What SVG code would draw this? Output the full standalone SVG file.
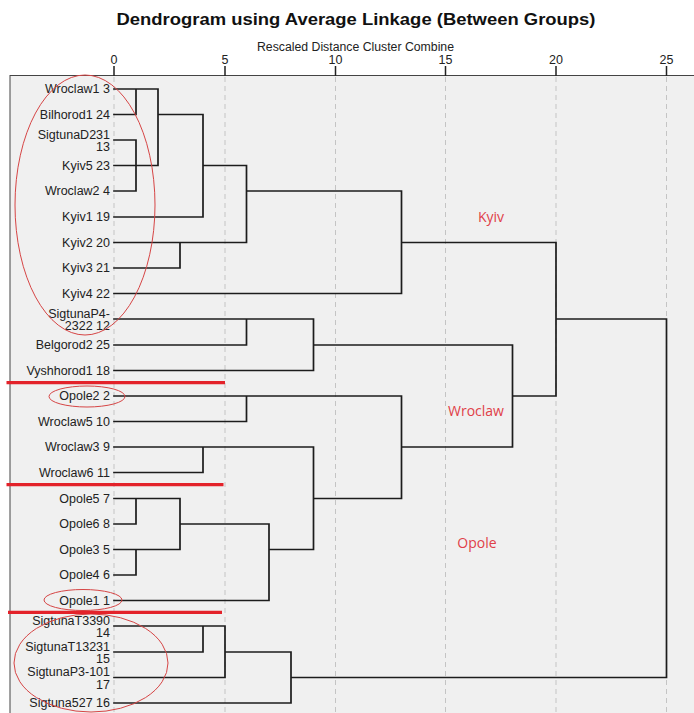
<svg xmlns="http://www.w3.org/2000/svg" width="694" height="713" viewBox="0 0 694 713">
<style>
.title{font-family:"Liberation Sans",Arial,sans-serif;font-weight:bold;font-size:17px;fill:#111}
.sub{font-family:"Liberation Sans",Arial,sans-serif;font-size:12px;fill:#222}
.tick{font-family:"Liberation Sans",Arial,sans-serif;font-size:12.5px;fill:#222;text-anchor:middle}
.leaf{font-family:"Liberation Sans",Arial,sans-serif;font-size:12.5px;fill:#222;text-anchor:end}
.grid{stroke:#c4c4c4;stroke-width:1;stroke-dasharray:5 4;fill:none}
.tk{stroke:#222;stroke-width:1.5}
.tree{stroke:#1c1c1c;stroke-width:1.7;fill:none;stroke-linecap:square}
.sep{stroke:#e3222a;stroke-width:3.2}
.ell{fill:none;stroke:#d64545;stroke-width:1}
.clab{font-family:"Open Sans","Liberation Sans",sans-serif;font-size:14px;fill:#e04048;text-anchor:middle}
</style>
<rect x="0" y="0" width="694" height="713" fill="#ffffff"/>
<text class="title" x="116.5" y="25" textLength="479" lengthAdjust="spacingAndGlyphs">Dendrogram using Average Linkage (Between Groups)</text>
<text class="sub" x="257" y="51" textLength="197" lengthAdjust="spacingAndGlyphs">Rescaled Distance Cluster Combine</text>
<rect x="10" y="75.5" width="700" height="660" fill="#f0f0f0" stroke="#444" stroke-width="1"/>
<g id="axis">
<path class="grid" d="M114 77V713M225 77V713M335.5 77V713M445.5 77V713M556 77V713M666.5 77V713"/>
<path class="tk" d="M114 66V76M225 66V76M335.5 66V76M445.5 66V76M556 66V76M666.5 66V76"/>
<text class="tick" x="114" y="64">0</text>
<text class="tick" x="225" y="64">5</text>
<text class="tick" x="335.5" y="64">10</text>
<text class="tick" x="445.5" y="64">15</text>
<text class="tick" x="556" y="64">20</text>
<text class="tick" x="666.5" y="64">25</text>
</g>
<g id="connectors">
<path class="tree" d="
M114 89H158 M136 89V114.5 M114 114.5H136 M158 114.5H203
M114 140H136 M136 140V191 M114 165.5H158 M114 191H136 M158 89V165.5
M203 114.5V217 M114 217H203 M203 165.5H246.5 M246.5 165.5V242.5
M114 242.5H246.5 M180 242.5V268 M114 268H180
M114 293.5H401.5 M246.5 191H401.5 M401.5 191V293.5
M401.5 242.5H556 M556 242.5V396 M556 319H666.5 M666.5 319V677.5
M114 319H313.5 M246.5 319V345 M114 345H246.5 M313.5 345H512.5
M313.5 319V370.5 M114 370.5H313.5 M512.5 345V447 M512.5 396H556
M114 396H401.5 M246.5 396V421.5 M114 421.5H246.5 M401.5 396V498.5
M401.5 447H512.5 M114 447H313.5 M203 447V472.5 M114 472.5H203
M313.5 447V549.5 M313.5 498.5H401.5
M114 498.5H180 M136 498.5V524 M114 524H136 M180 498.5V549.5 M180 524H269
M114 549.5H180 M136 549.5V575 M114 575H136 M269 524V600.5 M114 600.5H269
M269 549.5H313.5
M114 626H225 M203 626V652 M114 652H203 M225 626V677.5 M114 677.5H225
M225 652H291 M291 652V703 M114 703H291 M291 677.5H666.5"/>
</g>
<g id="leaf-wroclaw1-3"><text class="leaf" x="110" y="93.3">Wroclaw1 3</text></g>
<g id="leaf-bilhorod1-24"><text class="leaf" x="110" y="118.8">Bilhorod1 24</text></g>
<g id="leaf-sigtunad231-13"><text class="leaf" x="110" y="138.5">SigtunaD231</text><text class="leaf" x="110" y="151">13</text></g>
<g id="leaf-kyiv5-23"><text class="leaf" x="110" y="169.8">Kyiv5 23</text></g>
<g id="leaf-wroclaw2-4"><text class="leaf" x="110" y="195.3">Wroclaw2 4</text></g>
<g id="leaf-kyiv1-19"><text class="leaf" x="110" y="221.3">Kyiv1 19</text></g>
<g id="leaf-kyiv2-20"><text class="leaf" x="110" y="246.8">Kyiv2 20</text></g>
<g id="leaf-kyiv3-21"><text class="leaf" x="110" y="272.3">Kyiv3 21</text></g>
<g id="leaf-kyiv4-22"><text class="leaf" x="110" y="297.8">Kyiv4 22</text></g>
<g id="leaf-sigtunap4-2322-12"><text class="leaf" x="110" y="317.5">SigtunaP4-</text><text class="leaf" x="110" y="330">2322 12</text></g>
<g id="leaf-belgorod2-25"><text class="leaf" x="110" y="349.3">Belgorod2 25</text></g>
<g id="leaf-vyshhorod1-18"><text class="leaf" x="110" y="374.8">Vyshhorod1 18</text></g>
<g id="leaf-opole2-2"><text class="leaf" x="110" y="400.3">Opole2 2</text></g>
<g id="leaf-wroclaw5-10"><text class="leaf" x="110" y="425.8">Wroclaw5 10</text></g>
<g id="leaf-wroclaw3-9"><text class="leaf" x="110" y="451.3">Wroclaw3 9</text></g>
<g id="leaf-wroclaw6-11"><text class="leaf" x="110" y="476.8">Wroclaw6 11</text></g>
<g id="leaf-opole5-7"><text class="leaf" x="110" y="502.8">Opole5 7</text></g>
<g id="leaf-opole6-8"><text class="leaf" x="110" y="528.3">Opole6 8</text></g>
<g id="leaf-opole3-5"><text class="leaf" x="110" y="553.8">Opole3 5</text></g>
<g id="leaf-opole4-6"><text class="leaf" x="110" y="579.3">Opole4 6</text></g>
<g id="leaf-opole1-1"><text class="leaf" x="110" y="604.8">Opole1 1</text></g>
<g id="leaf-sigtunat3390-14"><text class="leaf" x="110" y="624.5">SigtunaT3390</text><text class="leaf" x="110" y="637">14</text></g>
<g id="leaf-sigtunat13231-15"><text class="leaf" x="110" y="650.5">SigtunaT13231</text><text class="leaf" x="110" y="663">15</text></g>
<g id="leaf-sigtunap3-101-17"><text class="leaf" x="110" y="676">SigtunaP3-101</text><text class="leaf" x="110" y="688.5">17</text></g>
<g id="leaf-sigtuna527-16"><text class="leaf" x="110" y="707.3">Sigtuna527 16</text></g>
<g id="annotations">
<ellipse class="ell" cx="85" cy="205" rx="70" ry="130"/>
<ellipse class="ell" cx="87" cy="396.5" rx="38" ry="10.5"/>
<ellipse class="ell" cx="83" cy="600" rx="39" ry="10.5"/>
<ellipse class="ell" cx="91" cy="663" rx="77" ry="49"/>
<path class="sep" d="M6.5 382.7H225M6.5 484.7H223.5M8 612.3H222"/>
<text class="clab" x="491" y="222">Kyiv</text>
<text class="clab" x="476" y="416">Wroclaw</text>
<text class="clab" x="477" y="548">Opole</text>
</g>
</svg>
